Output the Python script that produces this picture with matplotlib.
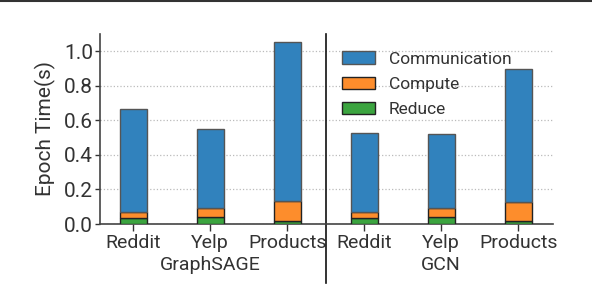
import numpy as np
import matplotlib
matplotlib.use("Agg")
import matplotlib.pyplot as plt
from matplotlib.lines import Line2D

plt.rcParams['font.family'] = ['Roboto', 'DejaVu Sans']

datasets = ["Reddit", "Yelp", "Products", "Reddit", "Yelp", "Products"]
models = ["GraphSAGE", "GCN"]
# stacked components (s)
reduce_t = [0.033, 0.042, 0.019, 0.037, 0.039, 0.017]
compute_t = [0.039, 0.049, 0.117, 0.035, 0.056, 0.109]
comm_t = [0.591, 0.460, 0.915, 0.455, 0.425, 0.769]

c_comm = "#3182bd"
c_comp = "#fd8d2c"
c_red = "#3ba43f"
txt = "#333333"

x = np.arange(len(datasets))
w = 0.35

fig = plt.figure(figsize=(5.92, 3.0), dpi=100)
ax = fig.add_axes([0.169, 0.2533, 0.765, 0.6337])

red = np.array(reduce_t)
comp = np.array(compute_t)
ax.bar(x, red, w, color=c_red, edgecolor="#222222", lw=1, label="Reduce", zorder=3)
ax.bar(x, comp, w, bottom=red, color=c_comp, edgecolor="#222222", lw=1, label="Compute", zorder=3)
ax.bar(x, comm_t, w, bottom=red + comp, color=c_comm, edgecolor="#555555", lw=1,
       label="Communication", zorder=3)

ax.set_xlim(-0.43, 5.45)
ax.set_ylim(0, 1.1)
ax.set_yticks([0.0, 0.2, 0.4, 0.6, 0.8, 1.0])
ax.set_yticklabels(["0.0", "0.2", "0.4", "0.6", "0.8", "1.0"])
ax.set_xticks(x)
ax.set_xticklabels(datasets)
ax.tick_params(axis='x', labelsize=14, colors=txt, length=5, width=1, pad=2)
ax.tick_params(axis='y', labelsize=15, colors=txt, length=3.5, width=1, pad=1.5)
ax.set_ylabel("Epoch Time(s)", fontsize=15, color=txt, labelpad=6)
ax.grid(axis='y', linestyle=':', color='#bbbbbb', lw=0.9, zorder=0)
for s in ['top', 'right']:
    ax.spines[s].set_visible(False)
for s in ['left', 'bottom']:
    ax.spines[s].set_color('#444444')
    ax.spines[s].set_linewidth(1.2)

# group labels
for i, m in enumerate(models):
    ax.text(1 + 3 * i, -0.215, m, transform=ax.get_xaxis_transform(), ha='center',
            va='center', fontsize=14, color=txt)

# divider between groups
ax.plot([2.5, 2.5], [-0.31, 1.0], transform=ax.get_xaxis_transform(), clip_on=False,
        color='#111111', lw=1.2)

h, l = ax.get_legend_handles_labels()
ax.legend(h[::-1], l[::-1], loc='upper left', bbox_to_anchor=(0.5, 0.99), frameon=False,
          fontsize=12.5, handlelength=1.9, handleheight=0.7, labelspacing=0.58,
          handletextpad=0.8, labelcolor=txt)

fig.add_artist(Line2D([0, 1], [0.998, 0.998], color='#333333', lw=1.5))

fig.savefig("out.png", dpi=100)
